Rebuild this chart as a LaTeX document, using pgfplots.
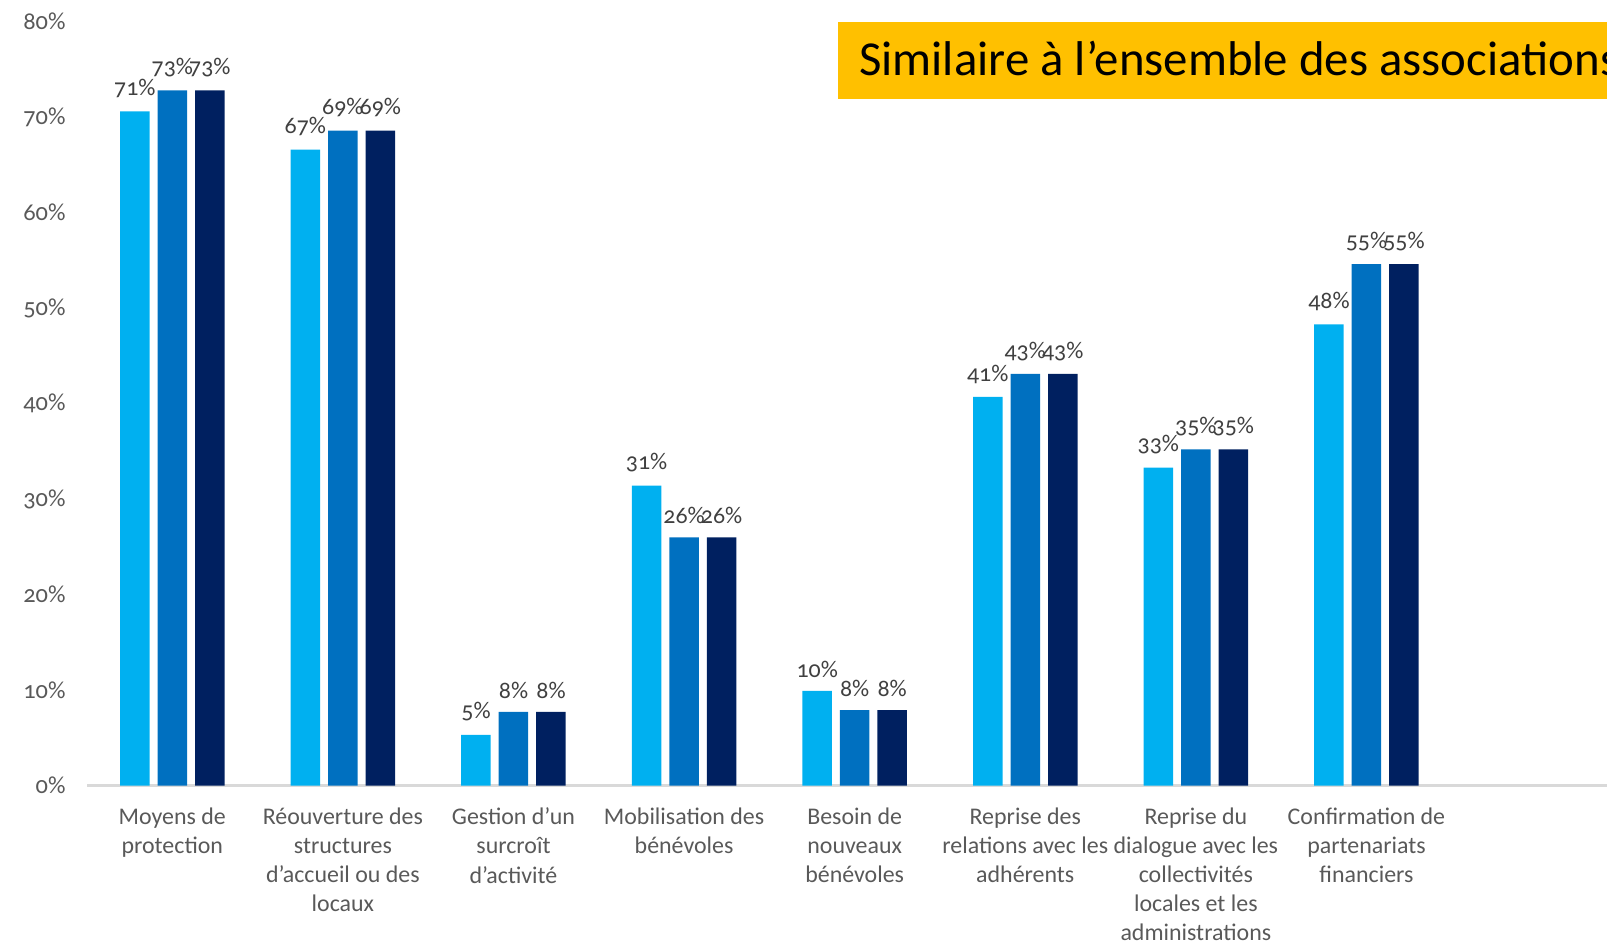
\documentclass[border=0pt]{standalone}
\usepackage{pgfplots}
\pgfplotsset{compat=1.18}
\usepackage{fontspec}
\setmainfont{Carlito}[Numbers=OldStyle]
\definecolor{c1}{HTML}{00B0F0}
\definecolor{c2}{HTML}{0070C0}
\definecolor{c3}{HTML}{002060}
\definecolor{ttxt}{HTML}{595959}
\definecolor{dl}{HTML}{404040}
\definecolor{axg}{HTML}{D9D9D9}
\definecolor{ybox}{HTML}{FFC000}
\begin{document}
\begin{tikzpicture}[x=1bp,y=1bp]
\begin{axis}[
  at={(87bp,157.5bp)}, anchor=south west,
  scale only axis, width=1520bp, height=763.8bp,
  xmin=0.5, xmax=9.41, ymin=0, ymax=80,
  axis lines=left,
  x axis line style={-, draw=axg, line width=2bp},
  y axis line style={draw=none},
  major tick length=0pt,
  ytick={0,10,...,80},
  yticklabel={\pgfmathprintnumber{\tick}\%},
  yticklabel style={font=\fontsize{24.5}{28}\selectfont, text=ttxt, xshift=-18bp},
  xtick={1,...,8},
  xticklabels={{Moyens de\\protection},{Réouverture des\\structures\\d'accueil ou des\\locaux},{Gestion d’un\\surcroît\\d’activité},{Mobilisation des\\bénévoles},{Besoin de\\nouveaux\\bénévoles},{Reprise des\\relations avec les\\adhérents},{Reprise du\\dialogue avec les\\collectivités\\locales et les\\administrations},{Confirmation de\\partenariats\\financiers}},
  xticklabel style={align=center, text=ttxt, font=\fontsize{24}{29.2}\selectfont, anchor=north, yshift=-19bp},
  /pgf/number format/assume math mode=true,
  ybar, bar width=29.5bp,
  nodes near coords={\pgfmathprintnumber[fixed,precision=0]{\pgfplotspointmeta}\%},
  nodes near coords style={font=\fontsize{24}{28}\selectfont, text=dl, yshift=10bp},
  clip=false,
]
\addplot[draw=none, fill=c1, bar shift=-37.5bp] coordinates {(1,70.6) (2,66.6) (3,5.3) (4,31.4) (5,9.9) (6,40.7) (7,33.3) (8,48.3)};
\addplot[draw=none, fill=c2, bar shift=0bp] coordinates {(1,72.8) (2,68.6) (3,7.7) (4,26.0) (5,7.9) (6,43.1) (7,35.2) (8,54.6)};
\addplot[draw=none, fill=c3, bar shift=37.5bp] coordinates {(1,72.8) (2,68.6) (3,7.7) (4,26.0) (5,7.9) (6,43.1) (7,35.2) (8,54.6)};
\end{axis}
\fill[ybox] (838bp,843.6bp) rectangle (1640bp,920.5bp);
\node[anchor=base west, inner sep=0pt, font=\fontsize{49}{55}\selectfont] at (859bp,867bp) {Similaire à l’ensemble des associations};
\pgfresetboundingbox
\useasboundingbox (0,0) rectangle (1607bp,943bp);
\end{tikzpicture}
\end{document}
